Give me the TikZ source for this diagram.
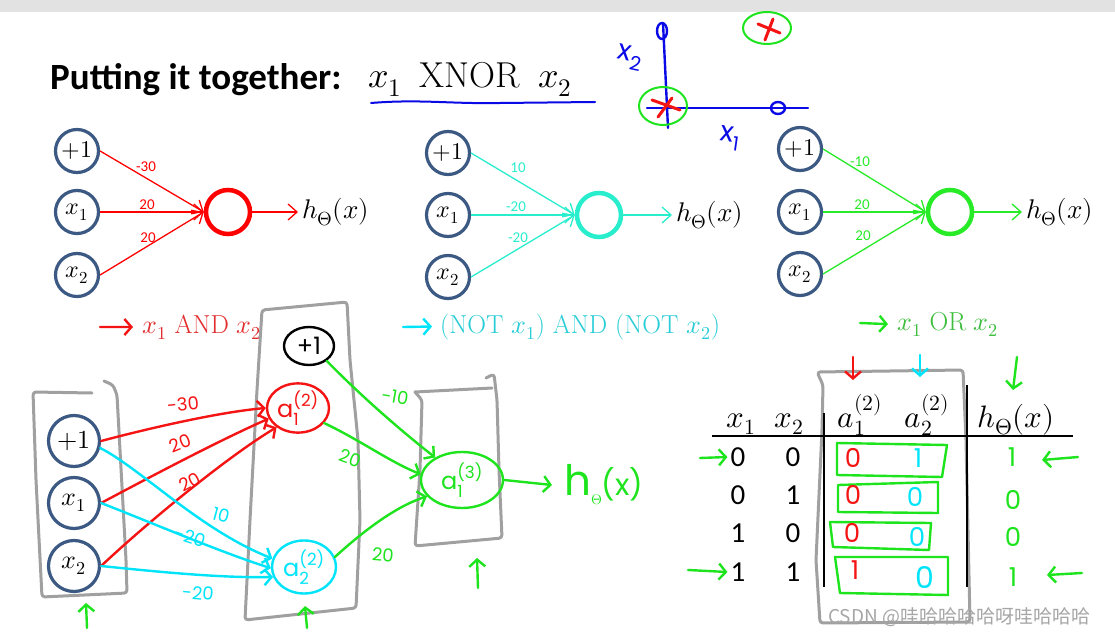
\documentclass[tikz,border=0pt]{standalone}
\usepackage{amsmath}
\usepackage{fontspec}
\usepackage{unicode-math}
\setmathfont{Latin Modern Math}
\usetikzlibrary{positioning,arrows.meta,shapes.geometric}
\newfontfamily\calib{Carlito}
\newfontfamily\handf{Poppins}
\newfontfamily\cjkf{Noto Sans CJK SC}
\definecolor{unitblue}{RGB}{59,89,130}
\definecolor{penred}{RGB}{245,20,20}
\definecolor{pencyan}{RGB}{0,228,250}
\definecolor{pengreen}{RGB}{30,228,30}
\definecolor{penblue}{RGB}{10,10,230}
\definecolor{netcyan}{RGB}{40,238,205}
\definecolor{netgreen}{RGB}{40,235,40}
\definecolor{labred}{RGB}{225,45,45}
\definecolor{labcyan}{RGB}{40,205,215}
\definecolor{labgreen}{RGB}{60,190,60}
\definecolor{boxgray}{RGB}{160,160,160}
\definecolor{bargray}{RGB}{226,226,226}
\newcommand{\hunitlab}[3]{$\text{#1}^{\text{#2}}_{\text{#3}}$}

\begin{document}
\begin{tikzpicture}[
  x=1pt, y=-1pt,
  inp/.style={circle, draw=unitblue, line width=3.2pt, minimum size=43pt, inner sep=0pt, font=\fontsize{24}{26}\selectfont},
  outp/.style={circle, line width=4.5pt, minimum size=44pt, inner sep=0pt},
  wt/.style={font=\calib\fontsize{15}{17}\selectfont, inner sep=0pt},
  netarr/.style={line width=1.3pt, -{Straight Barb[length=9pt,width=16pt]}},
  hyp/.style={font=\fontsize{27}{30}\selectfont, anchor=west, inner sep=4pt},
  lbl/.style={font=\fontsize{26}{30}\selectfont, anchor=base west, inner sep=0pt},
  pen/.style={line width=2.4pt, line cap=round, line join=round},
  penarr/.style={pen, -{Straight Barb[length=7pt,width=16pt]}},
  layer/.style={draw=boxgray, line width=3pt, line join=round, line cap=round, rounded corners=3pt},
  hnote/.style={font=\handf\fontsize{18}{20}\selectfont, inner sep=0pt},
  hunit/.style={ellipse, line width=2.4pt, inner sep=0pt, font=\handf\fontsize{24}{26}\selectfont},
  tab/.style={font=\calib\fontsize{29}{32}\selectfont, inner sep=0pt},
  thead/.style={font=\fontsize{31}{34}\selectfont, anchor=base, inner sep=0pt},
  hdig/.style={font=\handf\fontsize{26}{28}\selectfont, inner sep=0pt}
]
  \useasboundingbox (0,0) rectangle (1115,636);
  \fill[white] (0,0) rectangle (1115,636);
  \fill[bargray] (0,0) rectangle (1115,12);

  % title
  \node[font=\calib\bfseries\fontsize{37}{40}\selectfont, anchor=base west, inner sep=0pt] (title) at (50,90) {Putting it together:};
  \node[font=\fontsize{36}{40}\selectfont, anchor=base west, inner sep=0pt] (xnor) at (368,88) {$x_1\hspace{0.5em}\mathrm{XNOR}\hspace{0.5em}x_2$};
  \draw[pen, penblue, line width=2pt] (371,103) .. controls (420,99) and (450,104) .. (500,103) -- (595,102);

  % --- sketch: the four points
  \draw[pen, penblue] (663,23) -- (668,128);
  \draw[pen, penblue] (647,108) -- (808,108);
  \draw[pen, penblue] (662,31) ellipse (5 and 8);
  \draw[pen, penblue] (778,108) ellipse (7 and 6);
  \draw[pen, pengreen, line width=2pt] (663,106) ellipse (24 and 19);
  \draw[pen, penred, line width=3pt] (652,100) -- (680,110) (672,98) -- (658,117);
  \draw[pen, pengreen, line width=2pt] (767,28) ellipse (24 and 16);
  \draw[pen, penred, line width=3pt] (758,24) -- (780,33) (773,19) -- (765,40);
  \node[hnote, penblue, font=\handf\fontsize{28}{30}\selectfont, rotate=-12] (axy) at (630,58) {\hunitlab{x}{}{2}};
  \node[hnote, penblue, font=\handf\fontsize{28}{30}\selectfont, rotate=-8] (axx) at (730,138) {\hunitlab{x}{}{1}};

  % --- unit: x1 AND x2
  \node[inp] (ap) at (77,151) {$+1$};
  \node[inp] (ax1) at (77,212) {$x_1$};
  \node[inp] (ax2) at (77,275) {$x_2$};
  \node[outp, draw=red] (aout) at (228,212) {};
  \node[hyp] (ah) at (298,212) {$h_\Theta(x)$};
  \draw[netarr, red] (ap.east) -- (aout.west);
  \draw[netarr, red] (ax1.east) -- (aout.west);
  \draw[netarr, red] (ax2.east) -- (aout.west);
  \draw[netarr, red] (aout.east) -- (ah.west);
  \node[wt, red] at (146,167) {-30};
  \node[wt, red] at (147,205) {20};
  \node[wt, red] at (148,238) {20};

  % --- unit: (NOT x1) AND (NOT x2)
  \node[inp] (np) at (448,153) {$+1$};
  \node[inp] (nx1) at (448,215) {$x_1$};
  \node[inp] (nx2) at (448,277) {$x_2$};
  \node[outp, draw=netcyan] (nout) at (599,215) {};
  \node[hyp] (nh) at (672,215) {$h_\Theta(x)$};
  \draw[netarr, netcyan] (np.east) -- (nout.west);
  \draw[netarr, netcyan] (nx1.east) -- (nout.west);
  \draw[netarr, netcyan] (nx2.east) -- (nout.west);
  \draw[netarr, netcyan] (nout.east) -- (nh.west);
  \node[wt, netcyan] at (518,168) {10};
  \node[wt, netcyan] at (516,207) {-20};
  \node[wt, netcyan] at (518,238) {-20};

  % --- unit: x1 OR x2
  \node[inp] (op) at (800,149) {$+1$};
  \node[inp] (ox1) at (800,212) {$x_1$};
  \node[inp] (ox2) at (800,274) {$x_2$};
  \node[outp, draw=netgreen] (oout) at (950,212) {};
  \node[hyp] (oh) at (1022,212) {$h_\Theta(x)$};
  \draw[netarr, netgreen] (op.east) -- (oout.west);
  \draw[netarr, netgreen] (ox1.east) -- (oout.west);
  \draw[netarr, netgreen] (ox2.east) -- (oout.west);
  \draw[netarr, netgreen] (oout.east) -- (oh.west);
  \node[wt, netgreen] at (860,162) {-10};
  \node[wt, netgreen] at (862,205) {20};
  \node[wt, netgreen] at (863,236) {20};

  % --- names of the units
  \node[lbl, labred] (andlab) at (142,333) {$x_1$ AND $x_2$};
  \node[lbl, labcyan] (notlab) at (440,333) {(NOT $x_1$) AND (NOT $x_2$)};
  \node[lbl, labgreen] (orlab) at (897,330) {$x_1$ OR $x_2$};
  \draw[penarr, penred] (100,327) -- ([xshift=-9pt]andlab.west);
  \draw[penarr, pencyan] (403,327) -- ([xshift=-8pt]notlab.west);
  \draw[penarr, pengreen] (860,323) -- ([xshift=-9pt]orlab.west);

  % --- layers (grey boxes)
  \draw[layer] (92,393) -- (33,392) -- (36,480) -- (42,597) -- (127,593) -- (126,560) -- (120,450) -- (117,395) -- (113,385) -- (104,381);
  \draw[layer] (262,310) -- (347,302) -- (350,360) -- (358,440) -- (360,520) -- (356,608) -- (245,620) -- (250,520) -- (257,390) -- cycle;
  \draw[layer] (415,392) -- (492,388);
  \draw[layer] (486,378) -- (494,374) -- (497,400) -- (499,470) -- (502,538) -- (415,546) -- (420,470) -- (422,400) -- (415,392);

  % --- the network
  \node[inp, minimum size=51pt, font=\fontsize{26}{28}\selectfont] (bp) at (74,441) {$+1$};
  \node[inp, minimum size=51pt, font=\fontsize{26}{28}\selectfont] (bx1) at (74,503) {$x_1$};
  \node[inp, minimum size=51pt, font=\fontsize{26}{28}\selectfont] (bx2) at (74,566) {$x_2$};
  \node[hunit, draw=black, minimum width=50pt, minimum height=38pt] (hb) at (309,346) {+1};
  \node[hunit, draw=penred, text=penred, minimum width=62pt, minimum height=44pt] (ha1) at (298,408) {\hunitlab{a}{(2)}{1}};
  \node[hunit, draw=pencyan, text=pencyan, minimum width=64pt, minimum height=53pt] (ha2) at (304,567) {\hunitlab{a}{(2)}{2}};
  \node[hunit, draw=pengreen, text=pengreen, minimum width=82pt, minimum height=56pt] (ha3) at (462,480) {\hunitlab{a}{(3)}{1}};
  \node[anchor=west, inner sep=0pt, pengreen] (hout) at (564,485)
    {\handf\fontsize{42}{44}\selectfont h\raisebox{-9pt}{\fontsize{14}{14}\selectfont$\Theta$}\fontsize{30}{32}\selectfont(x)};

  % red: into a1
  \draw[penarr, penred] (bp.east) .. controls (150,428) and (220,412) .. (ha1.west);
  \draw[penarr, penred] (bx1.east) .. controls (150,477) and (220,440) .. (ha1.200);
  \draw[penarr, penred] (bx2.east) .. controls (150,520) and (230,455) .. (ha1.222);
  \node[hnote, penred, rotate=6] at (183,404) {-30};
  \node[hnote, penred, rotate=22] at (180,443) {20};
  \node[hnote, penred, rotate=28] at (190,482) {20};

  % cyan: into a2
  \draw[penarr, pencyan] (bp.-15) .. controls (140,468) and (200,530) .. (ha2.165);
  \draw[penarr, pencyan] (bx1.east) .. controls (150,522) and (220,552) .. (ha2.182);
  \draw[penarr, pencyan] (bx2.east) .. controls (160,572) and (220,578) .. (ha2.198);
  \node[hnote, pencyan, rotate=-15] at (221,515) {10};
  \node[hnote, pencyan, rotate=-18] at (190,537) {-20};
  \node[hnote, pencyan, rotate=-5] at (198,593) {-20};

  % green: into a3
  \draw[penarr, pengreen] (hb.-40) .. controls (360,395) and (400,430) .. (ha3.140);
  \draw[penarr, pengreen] (ha1.-30) .. controls (360,440) and (390,462) .. (ha3.172);
  \draw[penarr, pengreen] (ha2.18) .. controls (370,525) and (400,505) .. (ha3.205);
  \draw[penarr, pengreen] (ha3.east) -- ([xshift=-12pt]hout.west);
  \node[hnote, pengreen, rotate=-10] at (395,397) {-10};
  \node[hnote, pengreen, rotate=-20] at (350,458) {20};
  \node[hnote, pengreen, rotate=-5] at (383,555) {20};

  % pointers under the layers
  \draw[penarr, pengreen] (87,628) -- (86,603);
  \draw[penarr, pengreen] (307,628) -- (305,606);
  \draw[penarr, pengreen] (478,588) -- (477,558);

  % --- truth table
  \draw[layer] (817,372) -- (963,370) -- (966,440) -- (970,622) -- (820,623) -- (816,560) -- (822,430) -- (823,385) -- cycle;
  \node[thead] (tx1) at (741,427) {$x_1$};
  \node[thead] (tx2) at (789,427) {$x_2$};
  \node[thead] (ta1) at (860,427) {$a_1^{(2)}$};
  \node[thead] (ta2) at (927,427) {$a_2^{(2)}$};
  \node[thead] (th) at (1016,427) {$h_\Theta(x)$};
  \draw[line width=1.5pt] (712,436) -- (1073,436);
  \draw[line width=1.5pt] (824,413) -- (824,587);
  \draw[line width=1.5pt] (967,385) -- (967,587);
  \node[tab] (r1a) at (738,457) {0}; \node[tab] (r1b) at (793,457) {0};
  \node[tab] (r2a) at (738,495) {0}; \node[tab] (r2b) at (793,495) {1};
  \node[tab] (r3a) at (738,533) {1}; \node[tab] (r3b) at (793,533) {0};
  \node[tab] (r4a) at (738,572) {1}; \node[tab] (r4b) at (793,572) {1};

  % rows of the hidden layer
  \draw[pen, pengreen] (837,443) -- (947,445) -- (942,477) -- (837,475) -- cycle;
  \draw[pen, pengreen] (838,485) -- (938,482) -- (938,513) -- (838,512) -- cycle;
  \draw[pen, pengreen] (830,522) -- (931,523) -- (929,550) -- (833,547) -- cycle;
  \draw[pen, pengreen] (835,557) -- (948,557) -- (948,595) -- (840,593) -- cycle;
  \node[hdig, penred] at (853,458) {0};  \node[hdig, pencyan] at (918,458) {1};
  \node[hdig, penred] at (853,495) {0};  \node[hdig, pencyan] at (915,497) {0};
  \node[hdig, penred] at (852,533) {0};  \node[hdig, pencyan] at (917,537) {0};
  \node[hdig, penred] at (855,570) {1};  \node[hdig, pencyan, font=\handf\fontsize{30}{32}\selectfont] at (925,577) {0};
  \node[hdig, pengreen] (o1) at (1012,457) {1};
  \node[hdig, pengreen] (o2) at (1013,500) {0};
  \node[hdig, pengreen] (o3) at (1013,537) {0};
  \node[hdig, pengreen] (o4) at (1013,577) {1};

  % pointers in the table
  \draw[penarr, penred] (853,357) -- (853,380);
  \draw[penarr, pencyan] (920,355) -- (920,377);
  \draw[penarr, pengreen] (1017,357) -- (1013,390);
  \draw[penarr, pengreen] (700,458) -- ([xshift=-3pt]r1a.west);
  \draw[penarr, pengreen] (688,570) -- ([xshift=-3pt]r4a.west);
  \draw[penarr, pengreen] (1078,457) -- (1042,460);
  \draw[penarr, pengreen] (1082,573) -- (1047,575);

  \node[font=\cjkf\fontsize{19}{20}\selectfont, text=black!35, anchor=base west, inner sep=0pt] (mark) at (828,623) {CSDN @哇哈哈哈哈呀哇哈哈哈};
\end{tikzpicture}
\end{document}
